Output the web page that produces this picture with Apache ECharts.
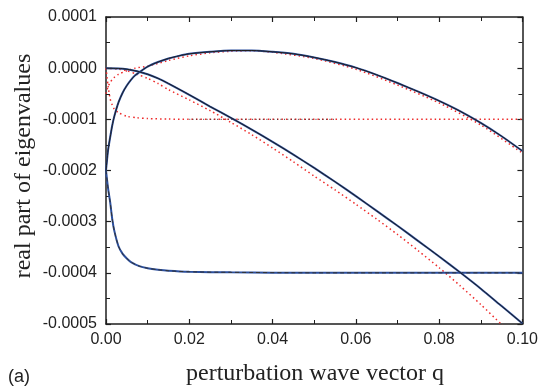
<!DOCTYPE html>
<html>
<head>
<meta charset="utf-8">
<script src="https://cdn.jsdelivr.net/npm/echarts@6/dist/echarts.min.js"></script>
<style>
  html, body { margin: 0; padding: 0; background: #fff; }
  #chart { width: 541px; height: 389px; }
</style>
</head>
<body>
<div id="chart"></div>
<script>

// upper branch (blue + black solid)
var qA  = [0, 0.0005, 0.001, 0.0015, 0.002, 0.003, 0.004, 0.005, 0.006, 0.007, 0.008, 0.01, 0.0125, 0.015, 0.0175, 0.02, 0.025, 0.03, 0.035, 0.04, 0.045, 0.05, 0.055, 0.06, 0.065, 0.07, 0.075, 0.08, 0.085, 0.09, 0.095, 0.1];
var reA = [-2.0, -1.6, -1.35, -1.12, -0.94, -0.67, -0.48, -0.34, -0.23, -0.14, -0.08, 0.03, 0.12, 0.19, 0.24, 0.28, 0.32, 0.345, 0.345, 0.32, 0.28, 0.21, 0.12, 0.01, -0.13, -0.29, -0.46, -0.64, -0.84, -1.07, -1.33, -1.62];

// upper branch, approximation (red dotted)
var qA2  = [0, 0.0005, 0.001, 0.0015, 0.002, 0.003, 0.005, 0.007, 0.01, 0.015, 0.02, 0.025, 0.03, 0.035, 0.04, 0.05, 0.06, 0.07, 0.08, 0.09, 0.1];
var reA2 = [-0.5, -0.36, -0.28, -0.22, -0.18, -0.12, -0.05, 0.0, 0.04, 0.15, 0.24, 0.3, 0.33, 0.34, 0.31, 0.19, -0.02, -0.33, -0.68, -1.11, -1.66];

// falling branch (blue + black solid)
var qB  = [0, 0.003, 0.005, 0.0075, 0.01, 0.0125, 0.015, 0.02, 0.025, 0.03, 0.035, 0.04, 0.045, 0.05, 0.055, 0.06, 0.065, 0.07, 0.075, 0.08, 0.085, 0.09, 0.095, 0.1];
var reB = [0, -0.005, -0.02, -0.06, -0.12, -0.2, -0.3, -0.52, -0.75, -0.97, -1.2, -1.44, -1.69, -1.95, -2.22, -2.5, -2.79, -3.08, -3.38, -3.68, -3.99, -4.31, -4.65, -4.99];

// falling branch, approximation (red dotted)
var reB2 = [0, -0.02, -0.05, -0.12, -0.2, -0.3, -0.42, -0.62, -0.83, -1.06, -1.3, -1.56, -1.83, -2.11, -2.38, -2.66, -2.95, -3.25, -3.57, -3.9, -4.25, -4.62, -5.01, -5.4];

// flat mode at -1e-4 (red dotted)
var qR  = [0, 0.0005, 0.001, 0.0015, 0.002, 0.003, 0.005, 0.0075, 0.01, 0.015, 0.02, 0.1];
var reR = [0, -0.35, -0.6, -0.72, -0.8, -0.87, -0.94, -0.97, -0.985, -0.995, -1.0, -1.0];

// black dotted piece on the same level
var qK  = [0.02, 0.055];
var reK = [-1.0, -1.0];

// lower branch (blue, dashed overlay)
var qC  = [0, 0.0005, 0.001, 0.0015, 0.002, 0.003, 0.004, 0.005, 0.006, 0.008, 0.01, 0.0125, 0.015, 0.02, 0.03, 0.05, 0.1];
var reC = [-2.0, -2.35, -2.62, -2.95, -3.18, -3.48, -3.63, -3.72, -3.79, -3.87, -3.91, -3.94, -3.96, -3.98, -3.99, -4.0, -4.0];

function pairs(xs, ys) {
  return xs.map(function(x, i) { return [x, ys[i]]; });
}

var BLUE = '#2b4f9e';
var RED = '#ee2a2a';
var INK = '#1e1e1e';

function mkLine(name, xs, ys, color, width, type) {
  return {
    name: name,
    type: 'line',
    data: pairs(xs, ys),
    showSymbol: false,
    smooth: 0.25,
    clip: true,
    animation: false,
    lineStyle: { color: color, width: width, type: type || 'solid' }
  };
}

var tickFont = { fontFamily: 'Liberation Sans, Arial, sans-serif', fontSize: 16, color: '#222' };

var chart = echarts.init(document.getElementById('chart'), null, { renderer: 'canvas' });

var xBase = {
  type: 'value', min: 0, max: 0.1, interval: 0.02,
  axisLine: { show: true, onZero: false, lineStyle: { color: INK, width: 1.5 } },
  axisTick: { show: true, inside: true, length: 5, lineStyle: { color: INK, width: 1.2 } },
  minorTick: { show: true, splitNumber: 2, length: 4, lineStyle: { color: INK, width: 1 } },
  splitLine: { show: false }
};
var yBase = {
  type: 'value', min: -5, max: 1, interval: 1,
  axisLine: { show: true, onZero: false, lineStyle: { color: INK, width: 1.5 } },
  axisTick: { show: true, inside: true, length: 5, lineStyle: { color: INK, width: 1.2 } },
  minorTick: { show: true, splitNumber: 2, length: 4, lineStyle: { color: INK, width: 1 } },
  splitLine: { show: false }
};

chart.setOption({
  animation: false,
  grid: { left: 106, top: 17, width: 418, height: 307, containLabel: false },
  xAxis: [
    Object.assign({}, xBase, {
      position: 'bottom',
      axisLabel: Object.assign({ margin: 8, formatter: function(v) { return v.toFixed(2); } }, tickFont)
    }),
    Object.assign({}, xBase, { position: 'top', axisLabel: { show: false } })
  ],
  yAxis: [
    Object.assign({}, yBase, {
      position: 'left',
      axisLabel: Object.assign({ margin: 9, formatter: function(v) {
        var r = Math.round(v);
        return r === 0 ? '0.0000' : (r / 10000).toFixed(4);
      } }, tickFont)
    }),
    Object.assign({}, yBase, { position: 'right', axisLabel: { show: false } })
  ],
  graphic: [
    {
      type: 'text', x: 24, y: 166, rotation: Math.PI / 2,
      style: { text: 'real part of eigenvalues', font: '24px "Liberation Serif", "Times New Roman", serif',
        fill: '#222', align: 'center', verticalAlign: 'middle', textAlign: 'center', textVerticalAlign: 'middle' }
    },
    {
      type: 'text', x: 315, y: 374,
      style: { text: 'perturbation wave vector q', font: '24px "Liberation Serif", "Times New Roman", serif',
        fill: '#222', align: 'center', verticalAlign: 'middle', textAlign: 'center', textVerticalAlign: 'middle' }
    },
    {
      type: 'text', x: 8, y: 377,
      style: { text: '(a)', font: '18px "Liberation Sans", Arial, sans-serif',
        fill: '#222', align: 'left', verticalAlign: 'middle', textAlign: 'left', textVerticalAlign: 'middle' }
    }
  ],
  series: [
    mkLine('reR', qR, reR, RED, 1.5, [1.5, 3]),
    mkLine('reK', qK, reK, '#333', 1, [1, 2.5]),
    mkLine('reA2', qA2, reA2, RED, 1.5, [1.5, 3]),
    mkLine('reB2', qB, reB2, RED, 1.5, [1.5, 3]),
    mkLine('reC', qC, reC, BLUE, 2),
    mkLine('reC dash', qC, reC, '#333', 1, [4, 3]),
    mkLine('reA', qA, reA, BLUE, 2),
    mkLine('reA ink', qA, reA, INK, 1),
    mkLine('reB', qB, reB, BLUE, 2),
    mkLine('reB ink', qB, reB, INK, 1)
  ]
});
</script>
</body>
</html>
